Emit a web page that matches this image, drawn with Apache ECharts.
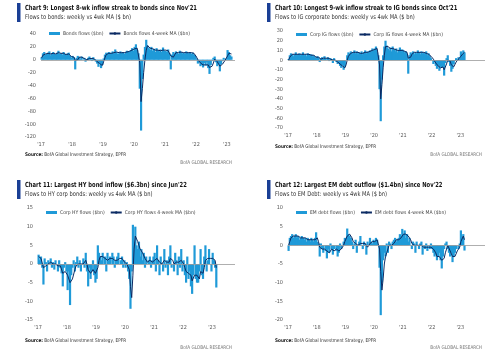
<!DOCTYPE html>
<html><head><meta charset="utf-8">
<script src="https://cdn.jsdelivr.net/npm/echarts@6/dist/echarts.min.js"></script>
<style>html,body{margin:0;padding:0;background:#fff}#c{width:500px;height:360px}</style>
</head><body><div id="c"></div>
<script>
const tickLabels = ["'17","'18","'19","'20","'21","'22","'23"];

// Semi-monthly readings, Jan 2017 - Feb 2023 ($bn)
const bondsFlows = [
 4,10,12,8,9,11,13,7,10,12,9,8, 11,14,9,10,8,12,9,7,10,11,6,3,
 6,4,-15,3,6,4,2,5,0,3,-3,1, 3,5,2,-2,4,1,-3,-6,-11,-5,-13,-8,
 2,8,11,10,12,9,11,13,10,16,12,9, 10,13,11,12,9,11,14,12,13,15,18,14,
 20,24,15,10,-45,-110,-30,8,20,31,22,18, 15,20,14,17,12,18,15,13,16,12,19,14,
 14,12,16,10,-15,8,12,10,13,11,9,14, 12,10,11,9,13,11,10,12,9,11,8,6,
 2,-6,-3,-10,-8,-12,-5,-9,-4,-13,-22,-8, -2,3,5,-4,-10,-6,-18,-7,-2,3,-1,2,
 15,12,7,5];
const bondsMA = [
 3,7,9,9,9,10,10,9,10,10,10,9, 10,11,10,10,9,10,9,8,9,9,7,5,
 5,4,-1,-1,0,4,4,4,3,2,1,0, 1,2,3,2,2,1,-1,-3,-6,-6,-8,-9,
 -3,3,8,10,10,10,10,11,11,12,12,11, 11,11,11,12,11,11,12,12,13,13,15,15,
 17,19,18,16,-5,-65,-45,-20,0,15,22,21, 18,17,17,16,15,15,15,14,14,14,15,15,
 15,14,14,13,6,4,4,7,11,11,11,11, 12,11,11,10,11,11,11,11,11,10,10,8,
 4,0,-3,-5,-7,-8,-9,-8,-7,-8,-12,-12, -10,-5,1,0,-3,-5,-10,-10,-7,-4,-1,1,
 6,10,11,9];

const igFlows = [
 1,5,7,6,4,6,8,5,6,7,5,6, 8,5,6,4,7,6,5,6,4,5,3,2,
 4,3,-2,2,3,1,4,2,0,3,-1,2, 1,-3,2,0,-2,-4,-3,-6,-8,-5,-10,-7,
 0,5,8,7,9,6,8,10,7,9,6,8, 7,9,6,8,10,7,9,8,10,9,12,10,
 12,14,8,5,-30,-63,-20,5,14,20,15,12, 10,13,9,14,11,9,12,8,10,13,9,11,
 10,8,9,6,-14,5,8,7,9,6,8,7, 10,8,6,9,7,8,6,9,5,7,4,2,
 0,-4,-2,-6,-9,-5,-11,-7,-8,-6,-16,-3, 2,5,-2,-6,-12,-9,-4,-1,2,0,3,1,
 9,6,10,8];
const igMA = [
 0,3,5,6,6,6,6,6,6,6,6,6, 6,6,6,6,6,6,6,5,5,5,4,3,
 3,3,1,1,1,2,2,2,2,2,1,1, 1,0,0,0,-1,-2,-3,-4,-5,-6,-7,-8,
 -5,0,4,6,7,7,8,8,8,8,8,8, 7,8,7,7,8,8,8,8,9,9,10,10,
 11,12,12,10,-5,-40,-25,-8,5,14,15,14, 12,12,12,12,11,11,11,10,10,10,10,10,
 10,9,9,8,2,1,3,6,8,8,8,8, 8,8,8,8,8,8,7,7,7,6,5,4,
 3,1,-1,-3,-5,-6,-8,-8,-8,-7,-10,-8, -4,0,1,-1,-5,-7,-7,-5,-2,0,1,1,
 4,6,7,8];

const hyFlows = [
 2.5,1,2,-1,-5.5,1.5,0.5,-2,1,0,1.5,-1, 0.5,-1.5,1,0,-2,1,-1,-2.5,-6,-1,0.5,-2,
 -7,-2,-11,-3,-1,1,-2,0.5,2,-1,1,-2, 0,1.5,-1,3,-2,-6,-1,-4,-2,1,-3,-5,
 -4,5,3,2,1,3,0,2,-2,3,1,2, 0,3,2,-1,1,2,3,0,1,2,-1,1,
 -1,0.5,-2,-4,-12,-2,10.5,6,10,5,4,6, 2,4,1,3,-1,2,0,1,2,-1,1,2,
 3,-2,5,1,-3,2,0,-2,4,-1,1,-3, 2,5,-1,0,-2,3,1,-3,2,-1,4,-2,
 1,-3,-5,2,-4,-2,-6,-8,-3,5,-4,-5, -5,-2,4,-3,-4,2,5,-2,1,4,0,-2,
 3,1,-1,-6.3];
const hyMA = [
 2,1.5,1.5,1,-1,-1,-0.5,-1,0,0,0.5,0, 0,-0.5,0,0,-0.5,-0.5,-0.5,-1,-2.5,-2.5,-2,-2,
 -3,-3.5,-5,-5.5,-4,-3.5,-1.5,-0.5,0,0,0.5,0, 0,0,0,1,0,-1.5,-2,-2.5,-2,-1.5,-2,-2.5,
 -3,-1,1,2,2.5,2,1.5,1.5,1,1,1,1.5, 1,1.5,1.5,1,1,1,1.5,1.5,1.5,1.5,1,0.5,
 0,0,-0.5,-1.5,-6,-9,-3,4,7.5,7,6,5, 4,3.5,3,2.5,1.5,1,0.5,0.5,1,0.5,0.5,1,
 1,1,1.5,1.5,0.5,1,0,0,1,0.5,0.5,0, 0.5,1.5,1,1,0,0.5,0.5,0,0.5,0,1,0.5,
 0,-1,-2,-1.5,-2.5,-2.5,-3,-4.5,-5,-3,-2.5,-3, -3.5,-4,-2,-2,-2.5,-1,1,1.5,1.5,2,1.5,1,
 1.5,1.5,1,-1];

const emFlows = [
 -1.5,2,2.5,3,2,2.5,3,2,2.5,1.5,2,2.5, 2,1.5,2,1,2,1.5,1,2,1.5,1,2,3.5,
 1,0.5,-3,0.5,-1,-2,0,-1.5,-3.5,-1,-2,0.5, -1,-2.5,-1,0,-1.5,-3,-2,0.5,-1,0,1,2,
 2,4.5,3,2.5,2,1,-1,0.5,1.5,-2,0,1, 2.5,0,-1,1,0.5,-2.5,1,0,2,1,0.5,1.5,
 1,2,1.5,0,-6,-18.7,-10,-4,-2,-3,0.5,-2, 1,0.5,-1,1,1.5,2,1,1.5,2,3,2.5,4.4,
 3,4,2,3,1,2,0,-1,1,0.5,-2,1, 0,-1,0.5,1,-2.5,0,-1,0.5,-1.5,0,-1,0.5,
 -1,-2,-3,-2.5,-4,-3,-2,-4,-6.2,-3,-1,0.5, 1,-1,-2,-3,-2,-4.5,-3,-2,-1,0,-1,0.5,
 4,2,3,-1.4];
const emMA = [
 0,1,2,2.5,2.5,2.5,2.5,2.5,2.5,2,2,2, 2,2,2,1.5,1.5,1.5,1.5,1.5,1.5,1.5,1.5,2,
 2,1,-0.5,-0.5,-1,-1,-1,-1,-1.5,-1.5,-2,-1.5, -1,-1,-1.5,-1,-1,-1.5,-1.5,-1,-1,-0.5,0,1,
 1.5,2.5,3,3,2.5,2,1,0.5,0.5,0,0,0, 0.5,1,0.5,0,0.5,0,-0.5,0,0.5,1,1,1,
 1,1.5,1.5,1,-1,-7,-12,-9,-5,-3,-2,-1, 0,0,0,0.5,0.5,1,1.5,1.5,1.5,2,2,2.5,
 3,3.5,3,3,2.5,2,1.5,0.5,0.5,0,0,0, 0,0,0,0,-0.5,-0.5,-1,-0.5,-0.5,-0.5,-0.5,-0.5,
 -0.5,-1,-1.5,-2,-3,-3,-3,-3,-4,-4,-3.5,-2, -1,0,-0.5,-1.5,-2,-3,-3,-3,-2.5,-1.5,-1,-0.5,
 1,1.5,2.5,1.5];

const titles = [
 "Chart 9: Longest 8-wk inflow streak to bonds since Nov'21",
 "Chart 10: Longest 9-wk inflow streak to IG bonds since Oct'21",
 "Chart 11: Largest HY bond inflow ($6.3bn) since Jun'22",
 "Chart 12: Largest EM debt outflow ($1.4bn) since Nov'22"];
const subtitles = [
 "Flows to bonds: weekly vs 4wk MA ($ bn)",
 "Flows to IG corporate bonds: weekly vs 4wk MA ($ bn)",
 "Flows to HY corp bonds: weekly vs 4wk MA ($ bn)",
 "Flows to EM Debt: weekly vs 4wk MA ($ bn)"];
const seriesNames = [
 ["Bonds flows ($bn)", "Bonds flows 4-week MA ($bn)"],
 ["Corp IG flows ($bn)", "Corp IG flows 4-week MA ($bn)"],
 ["Corp HY flows ($bn)", "Corp HY flows 4-week MA ($bn)"],
 ["EM debt flows ($bn)", "EM debt flows 4-week MA ($bn)"]];
const sourceText = "BofA Global Investment Strategy, EPFR";
const brandText = "BofA GLOBAL RESEARCH";

const FONT = "'Liberation Sans Narrow','DejaVu Sans Condensed','Liberation Sans',sans-serif";
const BAR = '#1f9ad8', LINE = '#0b2a63', ACCENT = '#1a3f95';

const layout = [
 {flows: bondsFlows, ma: bondsMA, grid:{left:41,top:34,width:194,height:103}, xMax:2023.26, y:[-120,40,20], lg:[49,31],
  tx:25, ty:8.5, sy:155, bx:232, by:163},
 {flows: igFlows, ma: igMA, grid:{left:288,top:31,width:197,height:97}, xMax:2023.86, y:[-70,30,10], lg:[296,32],
  tx:275, ty:8.5, sy:147, bx:482, by:155},
 {flows: hyFlows, ma: hyMA, grid:{left:38,top:208,width:197,height:112}, xMax:2023.79, y:[-15,15,5], lg:[46,210],
  tx:25, ty:185.5, sy:341, bx:232, by:348},
 {flows: emFlows, ma: emMA, grid:{left:288,top:208,width:197,height:112}, xMax:2023.86, y:[-20,10,5], lg:[296,210],
  tx:275, ty:185.5, sy:341, bx:482, by:348}
];

const xOf = i => 2017 + (i + 0.5) / 24;
const grids = [], xAxes = [], yAxes = [], series = [], legends = [], graphics = [];
layout.forEach((p, k) => {
  grids.push(p.grid);
  xAxes.push({type:'value', gridIndex:k, min:2017, max:p.xMax, interval:1,
    axisLine:{show:false}, axisTick:{show:false}, splitLine:{show:false},
    axisLabel:{fontSize:5.5, color:'#555', fontFamily:FONT, margin:5,
      formatter: v => Number.isInteger(v) ? (tickLabels[v-2017] || '') : ''}});
  yAxes.push({type:'value', gridIndex:k, min:p.y[0], max:p.y[1], interval:p.y[2],
    axisLine:{show:false}, axisTick:{show:false}, splitLine:{show:false},
    axisLabel:{fontSize:5.5, color:'#555', fontFamily:FONT, margin:5}});
  series.push({type:'bar', name:seriesNames[k][0], xAxisIndex:k, yAxisIndex:k,
    data:p.flows.map((v,i)=>[xOf(i), v]), barWidth:2.2, itemStyle:{color:BAR},
    markLine:{silent:true, symbol:'none', label:{show:false}, animation:false,
      lineStyle:{color:'#9a9a9a', width:0.8, type:'solid'}, data:[{yAxis:0}]}});
  series.push({type:'line', name:seriesNames[k][1], xAxisIndex:k, yAxisIndex:k, z:3,
    data:p.ma.map((v,i)=>[xOf(i), v]), symbol:'none', lineStyle:{color:LINE, width:1}, itemStyle:{color:LINE}});
  legends.push({left:p.lg[0], top:p.lg[1], padding:0, itemWidth:11, itemHeight:3, itemGap:5,
    textStyle:{fontSize:5, color:'#444', fontFamily:FONT, padding:[0,0,0,-2]},
    data:[{name:seriesNames[k][0], icon:'rect'}, {name:seriesNames[k][1]}]});
  const rectTop = p.ty - 5.5;
  graphics.push({type:'rect', shape:{x:p.tx-8, y:rectTop, width:3.5, height:19}, style:{fill:ACCENT}});
  graphics.push({type:'text', x:p.tx, y:p.ty, scaleX:0.83, style:{text:titles[k], font:"bold 7px "+FONT, fill:'#111', verticalAlign:'middle'}});
  graphics.push({type:'text', x:p.tx, y:p.ty+9, scaleX:0.88, style:{text:subtitles[k], font:"6.5px "+FONT, fill:'#333', verticalAlign:'middle'}});
  graphics.push({type:'text', x:p.tx, y:p.sy, scaleX:0.93, style:{text:'{b|Source:} ' + sourceText, font:"5px "+FONT, fill:'#333', verticalAlign:'middle',
    rich:{b:{fontWeight:'bold', fontSize:5, fontFamily:FONT, fill:'#111'}}}});
  graphics.push({type:'text', x:p.bx, y:p.by, scaleX:0.93, style:{text:brandText, font:"5px "+FONT, fill:'#777', align:'right', verticalAlign:'middle'}});
});

const chart = echarts.init(document.getElementById('c'), null, {renderer:'canvas'});
chart.setOption({animation:false, grid:grids, xAxis:xAxes, yAxis:yAxes, series:series, legend:legends, graphic:graphics});
</script></body></html>
